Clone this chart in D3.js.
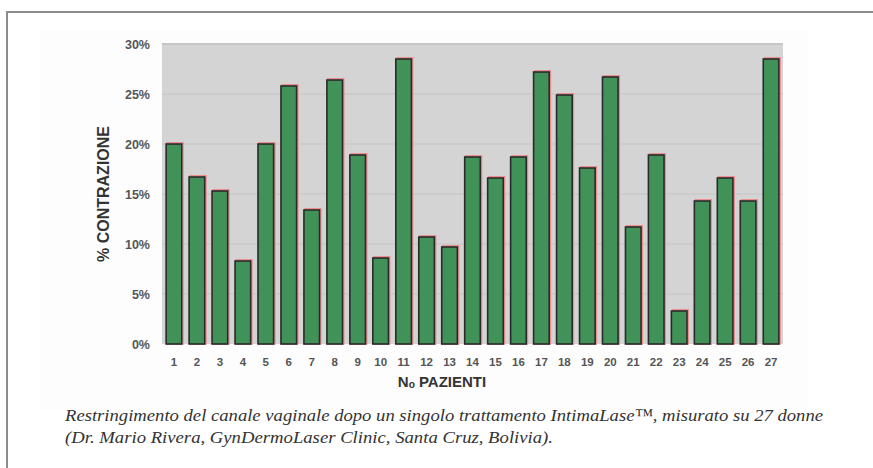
<!DOCTYPE html>
<html><head><meta charset="utf-8">
<script src="https://cdn.jsdelivr.net/npm/d3@7"></script>
<style>html,body{margin:0;padding:0;background:#fff;}svg{display:block;}</style>
</head><body>
<svg id="c" width="873" height="468"></svg>
<script>
const patients = d3.range(1, 28).map(String);
const contraction = [20.0,16.7,15.3,8.3,20.0,25.8,13.4,26.4,18.9,8.6,28.5,10.7,9.7,18.7,16.6,18.7,27.2,24.9,17.6,26.7,11.7,18.9,3.3,14.3,16.6,14.3,28.5];
const yTicks = [0,5,10,15,20,25,30];
const yTitle = "% CONTRAZIONE";
const xTitle = "N\u2092 PAZIENTI";
const caption = ["Restringimento del canale vaginale dopo un singolo trattamento IntimaLase\u2122, misurato su 27 donne",
                 "(Dr. Mario Rivera, GynDermoLaser Clinic, Santa Cruz, Bolivia)."];
const captionWidths = [758, 488];

const svg = d3.select("#c");
// frame
svg.append("line").attr("x1",6).attr("x2",873).attr("y1",12).attr("y2",12).attr("stroke","#8c8c8c").attr("stroke-width",2);
svg.append("line").attr("x1",7).attr("x2",7).attr("y1",11).attr("y2",468).attr("stroke","#8c8c8c").attr("stroke-width",2);
svg.append("rect").attr("x",40).attr("y",30).attr("width",768).attr("height",380).attr("fill","#fdfdfd");

const m = {l:162, r:783, t:44, b:344};
const x = d3.scaleBand().domain(patients).range([m.l, m.r]).paddingInner(0.32).paddingOuter(0.18);
const y = d3.scaleLinear().domain([0,30]).range([m.b, m.t]);

svg.append("rect").attr("x",m.l).attr("y",m.t).attr("width",m.r-m.l).attr("height",m.b-m.t).attr("fill","#d4d4d4");
svg.append("line").attr("x1",m.l).attr("x2",m.r).attr("y1",m.t).attr("y2",m.t).attr("stroke","#c6c6c6").attr("stroke-width",2);

const g = svg.append("g");
g.selectAll("line.grid").data(yTicks.slice(1,-1)).join("line")
  .attr("x1",m.l).attr("x2",m.r).attr("y1",d=>y(d)).attr("y2",d=>y(d))
  .attr("stroke","#c4c4c4").attr("stroke-width",1);

// y axis labels
const yAxis = d3.axisLeft(y).tickValues(yTicks).tickFormat(d=>d+"%").tickSize(0).tickPadding(12);
const ya = svg.append("g").attr("transform",`translate(${m.l},0)`).call(yAxis);
ya.select(".domain").remove();
ya.selectAll("text").attr("font-family","Liberation Sans, Arial, sans-serif").attr("font-weight","bold").attr("font-size",12.5).attr("fill","#555");

const xAxis = d3.axisBottom(x).tickSize(0).tickPadding(14);
const xa = svg.append("g").attr("transform",`translate(0,${m.b})`).call(xAxis);
xa.select(".domain").remove();
xa.selectAll("text").attr("font-family","Liberation Sans, Arial, sans-serif").attr("font-weight","bold").attr("font-size",11.5).attr("fill","#555");

// bars: red fringe + main
const data = patients.map((p,i)=>({p, v:contraction[i]}));
svg.append("g").selectAll("rect").data(data).join("rect")
  .attr("x",d=>x(d.p)+1.2).attr("y",d=>y(d.v)-1.2).attr("width",x.bandwidth()).attr("height",d=>y(0)-y(d.v)+1.2)
  .attr("fill","none").attr("stroke","#f07a7a").attr("stroke-width",1.6).attr("opacity",0.8);
svg.append("g").selectAll("rect").data(data).join("rect")
  .attr("x",d=>x(d.p)).attr("y",d=>y(d.v)).attr("width",x.bandwidth()).attr("height",d=>y(0)-y(d.v))
  .attr("fill","#409258").attr("stroke","#2a2a2a").attr("stroke-width",1.6);

// titles
svg.append("text").attr("transform","translate(109,194) rotate(-90)").attr("text-anchor","middle")
  .attr("font-family","Liberation Sans, Arial, sans-serif").attr("font-weight","bold").attr("font-size",16).attr("fill","#333").text(yTitle);
svg.append("text").attr("x",442).attr("y",387).attr("text-anchor","middle")
  .attr("font-family","Liberation Sans, Arial, sans-serif").attr("font-weight","bold").attr("font-size",15).attr("fill","#333").text(xTitle);

svg.selectAll("text.cap").data(caption).join("text").attr("class","cap")
  .attr("x",65).attr("y",(d,i)=>421+i*22)
  .attr("font-family","Liberation Serif, Times New Roman, serif").attr("font-style","italic").attr("font-size",17.5).attr("fill","#333")
  .attr("textLength",(d,i)=>captionWidths[i]).attr("lengthAdjust","spacingAndGlyphs")
  .text(d=>d);
</script>
</body></html>
